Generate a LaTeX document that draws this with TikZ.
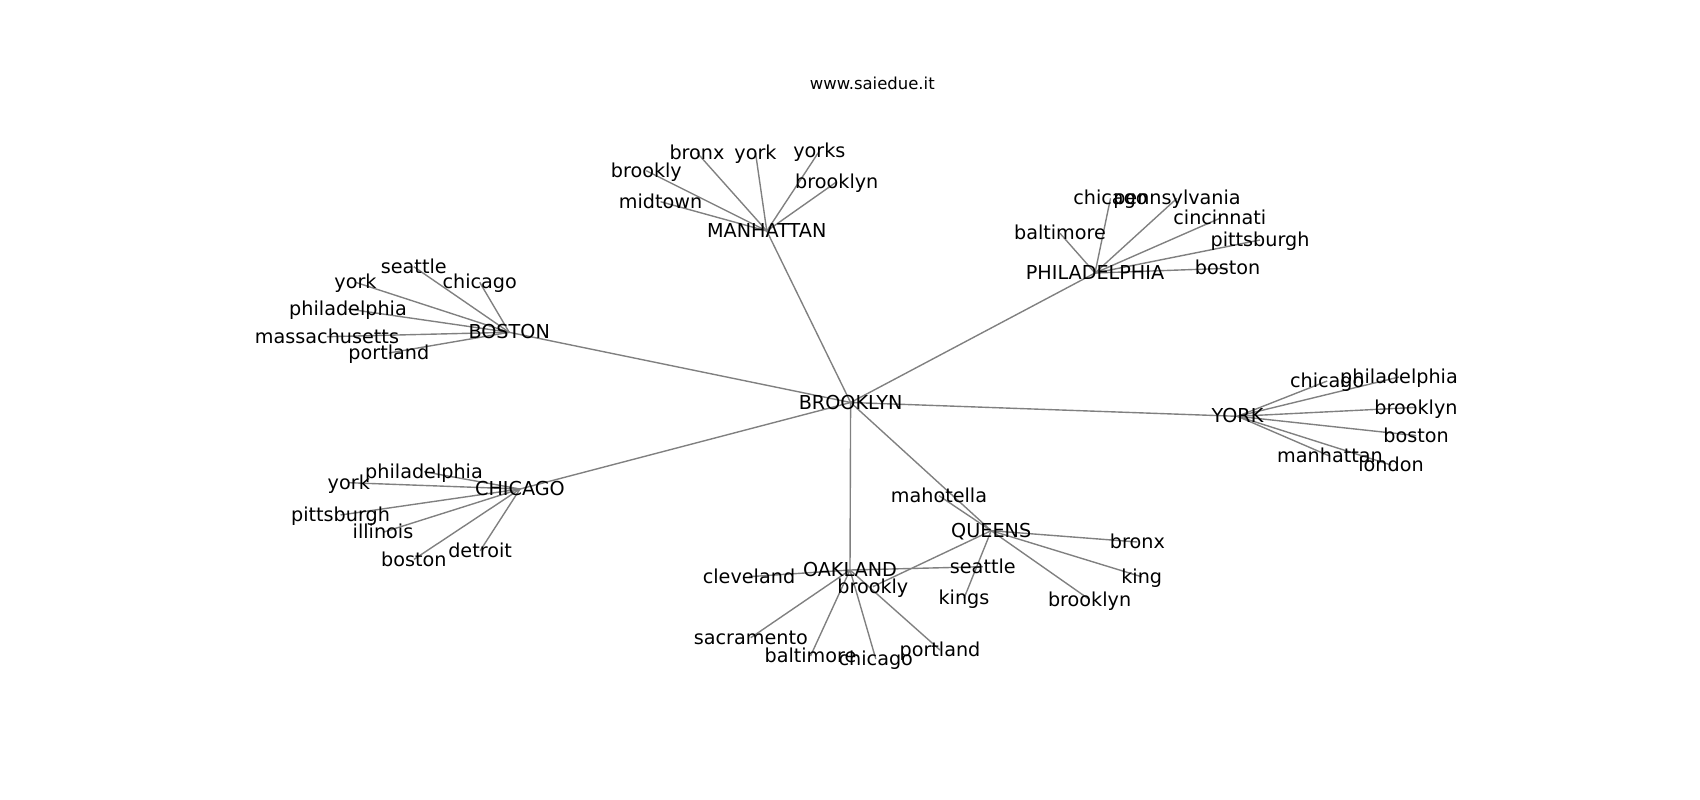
\documentclass[tikz,border=0pt]{standalone}
\usepackage{fontspec}
\setmainfont{DejaVu Sans}
\usetikzlibrary{backgrounds}
\tikzset{
  lbl/.style={font=\fontsize{19.2}{23}\selectfont, text height=16.2pt, text depth=3.0pt, inner sep=0pt, anchor=center, text=black},
  ttl/.style={font=\fontsize{16.46}{20}\selectfont, inner sep=0pt, anchor=center},
  edge/.style={draw=gray, line width=1.39pt}
}
\begin{document}
\begin{tikzpicture}[x=1pt,y=-1pt]
\useasboundingbox (0,0) rectangle (1700,800);
\node[ttl] (title) at (872.3,83) {www.saiedue.it};
% hubs
\node[lbl] (BRO) at (850.6,402.5) {BROOKLYN};
\node[lbl] (MAN) at (766.8,231) {MANHATTAN};
\node[lbl] (PHI) at (1095,273) {PHILADELPHIA};
\node[lbl] (BOS) at (509.2,332.3) {BOSTON};
\node[lbl] (YOR) at (1237.5,416.3) {YORK};
\node[lbl] (CHI) at (520,489) {CHICAGO};
\node[lbl] (OAK) at (850,570) {OAKLAND};
\node[lbl] (QUE) at (991.2,530.7) {QUEENS};
% MANHATTAN leaves
\node[lbl] (m1) at (697,152.7) {bronx};
\node[lbl] (m2) at (755.5,152.7) {york};
\node[lbl] (m3) at (819.4,151) {yorks};
\node[lbl] (m4) at (646.3,170.7) {brookly};
\node[lbl] (m5) at (836.8,181.7) {brooklyn};
\node[lbl] (m6) at (660.5,201.7) {midtown};
% PHILADELPHIA leaves
\node[lbl] (p1) at (1110.5,198.3) {chicago};
\node[lbl] (p2) at (1177,198.3) {pennsylvania};
\node[lbl] (p3) at (1219.8,218.3) {cincinnati};
\node[lbl] (p4) at (1260,240) {pittsburgh};
\node[lbl] (p5) at (1060,233.3) {baltimore};
\node[lbl] (p6) at (1227.5,268.3) {boston};
% BOSTON leaves
\node[lbl] (b1) at (413.8,266.7) {seattle};
\node[lbl] (b2) at (479.7,282.3) {chicago};
\node[lbl] (b3) at (355.5,282.3) {york};
\node[lbl] (b4) at (348,309) {philadelphia};
\node[lbl] (b5) at (327,336.7) {massachusetts};
\node[lbl] (b6) at (388.9,353) {portland};
% YORK leaves
\node[lbl] (y1) at (1327.2,381) {chicago};
\node[lbl] (y2) at (1399,377) {philadelphia};
\node[lbl] (y3) at (1416,407.4) {brooklyn};
\node[lbl] (y4) at (1416,435.6) {boston};
\node[lbl] (y5) at (1330,456.2) {manhattan};
\node[lbl] (y6) at (1391,465) {london};
% CHICAGO leaves
\node[lbl] (c1) at (424,471.7) {philadelphia};
\node[lbl] (c2) at (348.8,482.7) {york};
\node[lbl] (c3) at (340.5,515) {pittsburgh};
\node[lbl] (c4) at (383,532.3) {illinois};
\node[lbl] (c5) at (413.9,559.4) {boston};
\node[lbl] (c6) at (480.1,550.8) {detroit};
% OAKLAND leaves
\node[lbl] (o1) at (749,576.7) {cleveland};
\node[lbl] (o2) at (750.8,637.7) {sacramento};
\node[lbl] (o3) at (810.5,656) {baltimore};
\node[lbl] (o4) at (875.8,659) {chicago};
\node[lbl] (o5) at (940,650) {portland};
\node[lbl] (o6) at (982.8,566.7) {seattle};
% QUEENS leaves
\node[lbl] (q1) at (939,495.7) {mahotella};
\node[lbl] (q2) at (1137.4,542) {bronx};
\node[lbl] (q3) at (1141.7,576.8) {king};
\node[lbl] (q4) at (964,598.3) {kings};
\node[lbl] (q5) at (1089.6,599.6) {brooklyn};
\node[lbl] (q6) at (872.8,586.7) {brookly};
\begin{scope}[on background layer]
\foreach \h in {MAN,PHI,BOS,YOR,CHI,OAK,QUE}
  \draw[edge] (BRO.center) -- (\h.center);
\foreach \l in {m1,m2,m3,m4,m5,m6}
  \draw[edge] (MAN.center) -- (\l.center);
\foreach \l in {p1,p2,p3,p4,p5,p6}
  \draw[edge] (PHI.center) -- (\l.center);
\foreach \l in {b1,b2,b3,b4,b5,b6}
  \draw[edge] (BOS.center) -- (\l.center);
\foreach \l in {y1,y2,y3,y4,y5,y6}
  \draw[edge] (YOR.center) -- (\l.center);
\foreach \l in {c1,c2,c3,c4,c5,c6}
  \draw[edge] (CHI.center) -- (\l.center);
\foreach \l in {o1,o2,o3,o4,o5,o6}
  \draw[edge] (OAK.center) -- (\l.center);
\foreach \l in {q1,q2,q3,q4,q5,q6}
  \draw[edge] (QUE.center) -- (\l.center);
\end{scope}
\end{tikzpicture}
\end{document}
